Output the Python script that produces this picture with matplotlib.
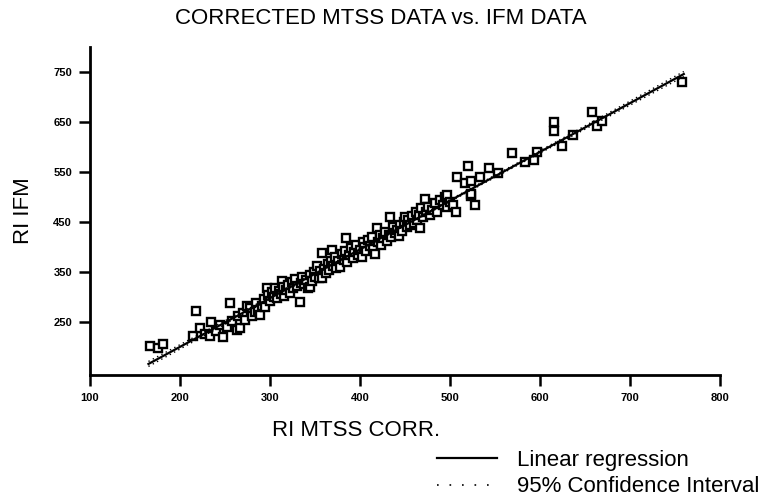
import numpy as np
import matplotlib
matplotlib.use('Agg')
import matplotlib.pyplot as plt
from matplotlib.lines import Line2D

plt.rcParams['font.family'] = ['Liberation Sans', 'DejaVu Sans']

# RI MTSS CORR. (x) vs RI IFM (y)
mtss = [167, 176, 181, 218, 215, 222, 228, 233, 235, 240, 245, 248, 252, 256, 258, 263, 265,
        267, 270, 272, 275, 278, 280, 283, 285, 287, 289, 291, 293, 295, 297, 298, 300, 302,
        304, 306, 308, 310, 312, 313, 315, 316, 318, 320, 322, 324, 326, 328, 330, 333, 334,
        336, 338, 340, 342, 344, 345, 347, 349, 350, 352, 354, 356, 358, 358, 360, 362, 364,
        366, 368, 369, 370, 372, 374, 376, 378, 380, 382, 384, 385, 386, 388, 390, 392, 394,
        396, 398, 400, 402, 403, 405, 407, 409, 411, 413, 415, 417, 419, 420, 422, 424, 426,
        428, 430, 432, 433, 435, 437, 439, 441, 443, 445, 447, 449, 450, 452, 454, 456, 458,
        460, 462, 464, 466, 467, 468, 470, 472, 474, 476, 478, 480, 483, 486, 489, 492, 495,
        497, 497, 500, 504, 507, 508, 517, 520, 523, 524, 524, 528, 533, 544, 554, 569, 584,
        594, 597, 616, 616, 625, 637, 658, 664, 669, 758]
ifm = [203, 199, 206, 272, 223, 239, 226, 223, 251, 232, 245, 221, 240, 289, 252, 235, 262,
       239, 268, 255, 282, 279, 262, 270, 288, 275, 265, 283, 297, 280, 319, 305, 292, 310,
       300, 318, 298, 312, 306, 333, 320, 302, 314, 325, 308, 330, 318, 336, 322, 291, 328,
       340, 326, 335, 318, 321, 345, 332, 350, 340, 362, 338, 352, 339, 389, 356, 348, 366,
       355, 372, 395, 362, 380, 358, 372, 361, 386, 375, 392, 419, 370, 385, 398, 378, 390,
       405, 384, 395, 381, 410, 400, 392, 415, 402, 420, 396, 387, 439, 410, 425, 405, 418,
       430, 412, 425, 461, 420, 440, 428, 435, 422, 445, 432, 450, 461, 440, 455, 445, 462,
       448, 470, 455, 465, 439, 478, 460, 497, 470, 480, 465, 475, 488, 470, 495, 485, 500,
       481, 505, 490, 485, 471, 541, 529, 563, 503, 533, 507, 485, 541, 559, 549, 589, 571,
       575, 590, 651, 633, 603, 625, 671, 643, 653, 730]

# regression line and 95% confidence band
slope = 0.973
intercept = 6.5
ci_x = [165, 300, 440, 600, 760]
ci_half = [5, 2.5, 1.5, 2.5, 5]

x = np.array(mtss, float)
y = np.array(ifm, float)
xs = np.array(ci_x, float)
fit = intercept + slope * xs
hw = np.array(ci_half)

fig = plt.figure(figsize=(7.69, 4.97), dpi=100)
ax = fig.add_axes([0.117, 0.2455, 0.819, 0.66])

ax.plot(x, y, ls='none', marker='s', ms=6.2, mfc='white', mec='black', mew=1.7)
ax.plot(xs, fit, color='black', lw=1.6)
ax.plot(xs, fit + hw, color='black', lw=1, ls=(0, (1, 2.5)))
ax.plot(xs, fit - hw, color='black', lw=1, ls=(0, (1, 2.5)))

ax.set_xlim(100, 800)
ax.set_ylim(145, 800)
ax.set_xticks(range(100, 801, 100))
ax.set_yticks(range(250, 751, 100))
for sp in ['top', 'right']:
    ax.spines[sp].set_visible(False)
for sp in ['left', 'bottom']:
    ax.spines[sp].set_linewidth(2)
ax.tick_params(length=8, width=1.8, labelsize=8, pad=5)
for t in ax.get_xticklabels() + ax.get_yticklabels():
    t.set_fontweight('bold')

ax.set_xlabel('RI MTSS CORR.', fontsize=16)
ax.xaxis.set_label_coords(0.422, -0.168)
ax.xaxis.label.set_va('center')
ax.set_ylabel('RI IFM', fontsize=16, labelpad=14)
fig.text(0.495, 0.962, 'CORRECTED MTSS DATA vs. IFM DATA', fontsize=16, ha='center', va='center')

handles = [Line2D([], [], color='black', lw=1.6),
           Line2D([], [], color='black', lw=1.2, ls=(0, (1, 6.5)))]
fig.legend(handles, ['Linear regression', '95% Confidence Interval'], loc='upper left',
           bbox_to_anchor=(0.557, 0.113), frameon=False, fontsize=16,
           handlelength=2.7, handletextpad=0.9, labelspacing=0.25, borderaxespad=0)

fig.savefig('out.png', dpi=100)
